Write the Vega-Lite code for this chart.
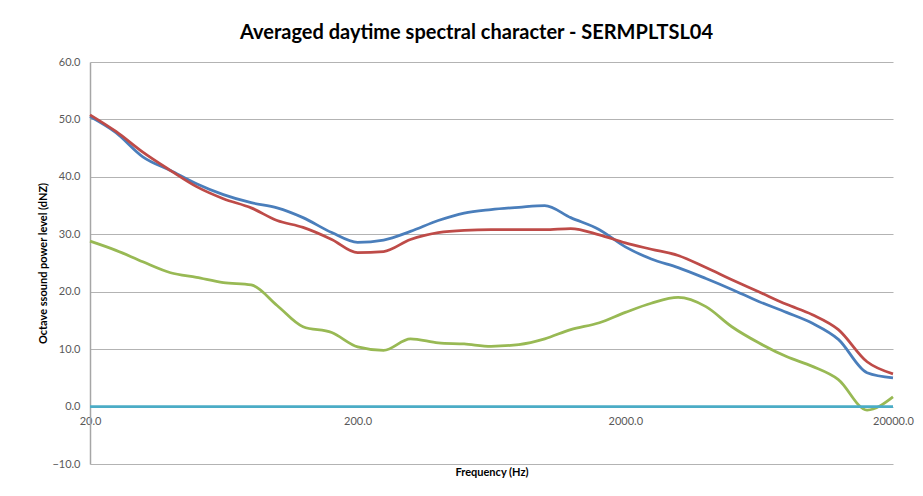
{
  "$schema": "https://vega.github.io/schema/vega-lite/v6.json",
  "autosize": "none",
  "padding": {"left": 90, "top": 62, "right": 30, "bottom": 32},
  "width": 803,
  "height": 402,
  "background": "white",
  "config": {
    "font": "Lato",
    "view": {"stroke": null}
  },
  "title": {
    "text": "Averaged daytime spectral character - SERMPLTSL04",
    "font": "Lato",
    "fontSize": 20,
    "fontWeight": "bold",
    "color": "#000000",
    "anchor": "middle",
    "dx": -15,
    "offset": 13
  },
  "data": {
    "values": [
      {"freq": 20, "series": "S1", "value": 50.5}, {"freq": 25, "series": "S1", "value": 47.7}, {"freq": 31.5, "series": "S1", "value": 43.5}, {"freq": 40, "series": "S1", "value": 41.1}, {"freq": 50, "series": "S1", "value": 38.8}, {"freq": 63, "series": "S1", "value": 36.9}, {"freq": 80, "series": "S1", "value": 35.5}, {"freq": 100, "series": "S1", "value": 34.6}, {"freq": 125, "series": "S1", "value": 32.9}, {"freq": 160, "series": "S1", "value": 30.3}, {"freq": 200, "series": "S1", "value": 28.6}, {"freq": 250, "series": "S1", "value": 29.0}, {"freq": 315, "series": "S1", "value": 30.5}, {"freq": 400, "series": "S1", "value": 32.4}, {"freq": 500, "series": "S1", "value": 33.7}, {"freq": 630, "series": "S1", "value": 34.3}, {"freq": 800, "series": "S1", "value": 34.7}, {"freq": 1000, "series": "S1", "value": 35.0}, {"freq": 1250, "series": "S1", "value": 32.9}, {"freq": 1600, "series": "S1", "value": 30.8}, {"freq": 2000, "series": "S1", "value": 27.8}, {"freq": 2500, "series": "S1", "value": 25.7}, {"freq": 3150, "series": "S1", "value": 24.2}, {"freq": 4000, "series": "S1", "value": 22.3}, {"freq": 5000, "series": "S1", "value": 20.4}, {"freq": 6300, "series": "S1", "value": 18.3}, {"freq": 8000, "series": "S1", "value": 16.4}, {"freq": 10000, "series": "S1", "value": 14.5}, {"freq": 12500, "series": "S1", "value": 11.7}, {"freq": 16000, "series": "S1", "value": 5.9}, {"freq": 20000, "series": "S1", "value": 5.0},
      {"freq": 20, "series": "S2", "value": 50.8}, {"freq": 25, "series": "S2", "value": 47.9}, {"freq": 31.5, "series": "S2", "value": 44.3}, {"freq": 40, "series": "S2", "value": 41.1}, {"freq": 50, "series": "S2", "value": 38.3}, {"freq": 63, "series": "S2", "value": 36.2}, {"freq": 80, "series": "S2", "value": 34.6}, {"freq": 100, "series": "S2", "value": 32.4}, {"freq": 125, "series": "S2", "value": 31.2}, {"freq": 160, "series": "S2", "value": 29.1}, {"freq": 200, "series": "S2", "value": 26.8}, {"freq": 250, "series": "S2", "value": 27.0}, {"freq": 315, "series": "S2", "value": 29.1}, {"freq": 400, "series": "S2", "value": 30.3}, {"freq": 500, "series": "S2", "value": 30.7}, {"freq": 630, "series": "S2", "value": 30.8}, {"freq": 800, "series": "S2", "value": 30.8}, {"freq": 1000, "series": "S2", "value": 30.8}, {"freq": 1250, "series": "S2", "value": 31.0}, {"freq": 1600, "series": "S2", "value": 29.9}, {"freq": 2000, "series": "S2", "value": 28.5}, {"freq": 2500, "series": "S2", "value": 27.4}, {"freq": 3150, "series": "S2", "value": 26.3}, {"freq": 4000, "series": "S2", "value": 24.2}, {"freq": 5000, "series": "S2", "value": 22.1}, {"freq": 6300, "series": "S2", "value": 20.0}, {"freq": 8000, "series": "S2", "value": 17.8}, {"freq": 10000, "series": "S2", "value": 16.0}, {"freq": 12500, "series": "S2", "value": 13.4}, {"freq": 16000, "series": "S2", "value": 7.8}, {"freq": 20000, "series": "S2", "value": 5.7},
      {"freq": 20, "series": "S3", "value": 28.8}, {"freq": 25, "series": "S3", "value": 27.2}, {"freq": 31.5, "series": "S3", "value": 25.2}, {"freq": 40, "series": "S3", "value": 23.3}, {"freq": 50, "series": "S3", "value": 22.5}, {"freq": 63, "series": "S3", "value": 21.6}, {"freq": 80, "series": "S3", "value": 21.2}, {"freq": 100, "series": "S3", "value": 17.6}, {"freq": 125, "series": "S3", "value": 13.9}, {"freq": 160, "series": "S3", "value": 12.9}, {"freq": 200, "series": "S3", "value": 10.4}, {"freq": 250, "series": "S3", "value": 9.8}, {"freq": 315, "series": "S3", "value": 11.8}, {"freq": 400, "series": "S3", "value": 11.1}, {"freq": 500, "series": "S3", "value": 10.9}, {"freq": 630, "series": "S3", "value": 10.5}, {"freq": 800, "series": "S3", "value": 10.8}, {"freq": 1000, "series": "S3", "value": 11.8}, {"freq": 1250, "series": "S3", "value": 13.4}, {"freq": 1600, "series": "S3", "value": 14.6}, {"freq": 2000, "series": "S3", "value": 16.4}, {"freq": 2500, "series": "S3", "value": 18.0}, {"freq": 3150, "series": "S3", "value": 19.0}, {"freq": 4000, "series": "S3", "value": 17.4}, {"freq": 5000, "series": "S3", "value": 13.9}, {"freq": 6300, "series": "S3", "value": 11.1}, {"freq": 8000, "series": "S3", "value": 8.7}, {"freq": 10000, "series": "S3", "value": 7.0}, {"freq": 12500, "series": "S3", "value": 4.7}, {"freq": 16000, "series": "S3", "value": -0.6}, {"freq": 20000, "series": "S3", "value": 1.7},
      {"freq": 20, "series": "S4", "value": 0}, {"freq": 20000, "series": "S4", "value": 0}
    ]
  },
  "mark": {"type": "line", "interpolate": "monotone", "strokeWidth": 2.75},
  "encoding": {
    "x": {
      "field": "freq",
      "type": "quantitative",
      "scale": {"type": "log", "domain": [20, 20000], "nice": false},
      "axis": {
        "title": "Frequency (Hz)",
        "titleFont": "Lato",
        "titleFontSize": 11,
        "titleFontWeight": "bold",
        "titleColor": "#000000",
        "titleY": 65,
        "titleBaseline": "middle",
        "values": [20, 200, 2000, 20000],
        "format": ".1f",
        "labelFont": "Lato",
        "labelFontSize": 11,
        "labelColor": "#595959",
        "labelFlush": false,
        "labelPadding": 8,
        "offset": -57,
        "domain": false,
        "ticks": false,
        "grid": false
      }
    },
    "y": {
      "field": "value",
      "type": "quantitative",
      "scale": {"domain": [-10, 60], "nice": false, "zero": false},
      "axis": {
        "title": "Octave ssound power level (dNZ)",
        "titleFont": "Lato",
        "titleFontSize": 11,
        "titleFontWeight": "bold",
        "titleColor": "#000000",
        "titleX": -47,
        "titleY": 201,
        "titleAlign": "center",
        "titleBaseline": "middle",
        "titleAngle": -90,
        "values": [-10, 0, 10, 20, 30, 40, 50, 60],
        "format": ".1f",
        "labelFont": "Lato",
        "labelFontSize": 11,
        "labelColor": "#595959",
        "labelPadding": 10,
        "ticks": false,
        "domain": true,
        "domainColor": "#a6a6a6",
        "domainWidth": 1.5,
        "grid": true,
        "gridColor": "#b3b3b3",
        "gridWidth": 1.2
      }
    },
    "color": {
      "field": "series",
      "type": "nominal",
      "scale": {"domain": ["S1", "S2", "S3", "S4"], "range": ["#4a7ebb", "#be4b48", "#98b954", "#4bacc6"]},
      "legend": null
    },
    "order": {"field": "freq", "type": "quantitative"}
  }
}
